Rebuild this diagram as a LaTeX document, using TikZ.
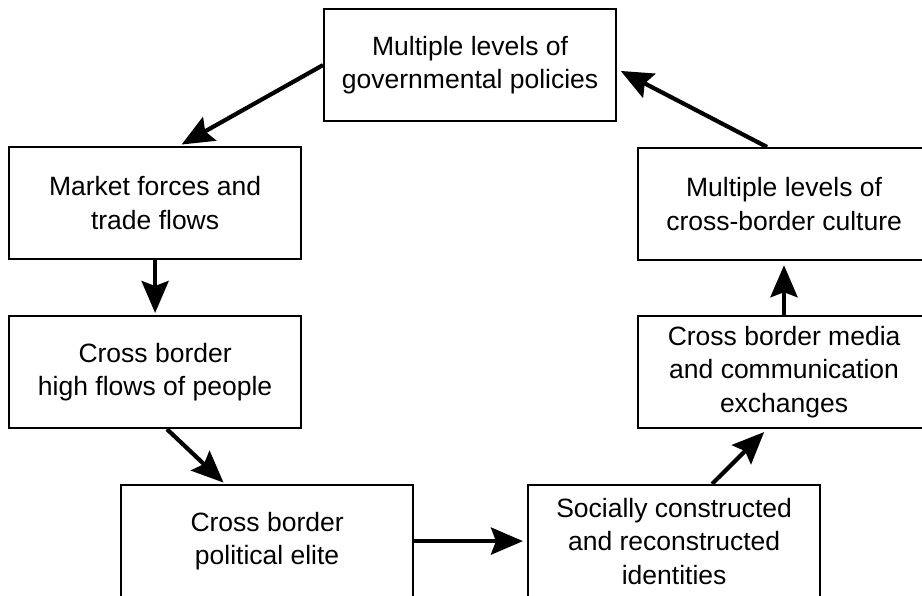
\documentclass[tikz,border=0pt]{standalone}
\usepackage{fontspec}
\setmainfont{Liberation Sans}
\usetikzlibrary{arrows.meta}
\begin{document}
\begin{tikzpicture}[x=1pt,y=-1pt,
  box/.style={draw=black,line width=2.2pt,anchor=north west,inner sep=0pt,
    minimum width=292pt,minimum height=112pt,align=center,
    font=\fontsize{26.5}{33.5}\selectfont},
  flow/.style={line width=4.2pt,-{Stealth[length=32pt,width=27pt,inset=5pt]}}]
\clip (0,0) rectangle (922,596);
\fill[white] (0,0) rectangle (922,596);
\node[box] (gov) at (323,8) {Multiple levels of\\governmental policies};
\node[box] (market) at (8,146) {Market forces and\\trade flows};
\node[box] (people) at (8,315) {Cross border\\high flows of people};
\node[box] (elite) at (120,484) {Cross border\\political elite};
\node[box] (social) at (527,484) {Socially constructed\\and reconstructed\\identities};
\node[box] (media) at (637,315) {Cross border media\\and communication\\exchanges};
\node[box] (culture) at (637,147) {Multiple levels of\\cross-border culture};
\draw[flow,shorten >=3pt] (gov.west) -- ([xshift=171pt]market.north west);
\draw[flow,shorten >=2pt] (market.south) -- (people.north);
\draw[flow,shorten >=2pt] ([xshift=159pt]people.south west) -- ([xshift=105pt]elite.north west);
\draw[flow,shorten >=4pt] (elite.east) -- (social.west);
\draw[flow,shorten >=4pt] ([xshift=185pt]social.north west) -- ([xshift=130pt]media.south west);
\draw[flow,shorten >=4pt] ([xshift=147pt]media.north west) -- ([xshift=147pt]culture.south west);
\draw[flow,shorten >=4pt] ([xshift=130pt]culture.north west) -- ([yshift=-4pt]gov.east);
\end{tikzpicture}
\end{document}
